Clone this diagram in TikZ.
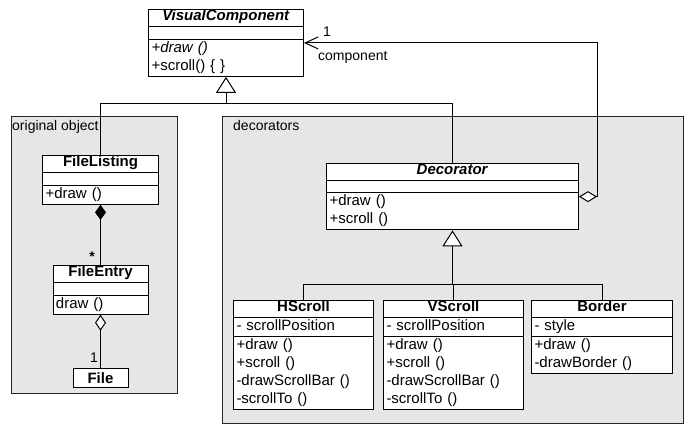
\documentclass[tikz,border=0pt]{standalone}
\usepackage{fontspec}
\setsansfont{Liberation Sans}
\definecolor{panelgray}{RGB}{230,230,230}
\tikzset{every picture/.style={/utils/exec={\sffamily\fontsize{14}{18}\selectfont}}}
\usetikzlibrary{arrows.meta}
\usetikzlibrary{shapes.multipart}
\usetikzlibrary{positioning}

\newcommand{\classtitle}[1]{\makebox[\linewidth]{\rule[-5.5pt]{0pt}{13.5pt}\textbf{#1}}}
\newcommand{\noattr}{\rule{0pt}{11.5pt}}
\newcommand{\members}[1]{\strut#1\strut}

\tikzset{
  classbox/.style={draw, fill=white, line width=1pt, rectangle split,
    rectangle split parts=3, text width=#1, align=left,
    font=\fontsize{15}{18}\selectfont,
    inner xsep=3pt, inner ysep=0pt, anchor=north west},
  panel/.style={draw=black!85, fill=panelgray, line width=1pt,
    inner sep=0pt, anchor=north west},
  genline/.style={line width=1pt},
  gen/.style={line width=1pt, -{Triangle[fill=white, length=16pt, width=20pt]}},
  agg/.style={line width=1pt, {Diamond[fill=white, length=18pt, width=11pt]}-{Straight Barb[length=13pt, width=12pt]}},
  shared/.style={line width=1pt, {Diamond[fill=white, length=16pt, width=11pt]}-},
  owns/.style={line width=1pt, {Diamond[length=15pt, width=11pt]}-}
}

\begin{document}
\begin{tikzpicture}[x=1pt, y=-1pt]
  \useasboundingbox (0,0) rectangle (694,430);

  % groups
  \node [panel, minimum width=166, minimum height=277] (orig) at (11,116) {};
  \node [panel, minimum width=461, minimum height=307] (deco) at (222,116) {};
  \node [anchor=base west, inner sep=0pt] (origlabel) at (12,131) {original object};
  \node [anchor=base west, inner sep=0pt] (decolabel) at (233,131) {decorators};

  % classes
  \node [classbox=149] (vc) at (148,9) {\classtitle{\textit{VisualComponent}}
    \nodepart{two}\noattr
    \nodepart{three}\members{\textit{+draw ()}\\+scroll() \{ \}}};

  \node [classbox=110] (fl) at (42,155) {\classtitle{FileListing}
    \nodepart{two}\noattr
    \nodepart{three}\members{+draw ()}};
  \node [classbox=89, below=60pt of fl.south, anchor=north] (fe) {\classtitle{FileEntry}
    \nodepart{two}\noattr
    \nodepart{three}\members{draw ()}};
  \node [draw, fill=white, line width=1pt, minimum width=55, minimum height=19,
    inner sep=0pt, font=\fontsize{15}{18}\selectfont,
    below=53pt of fe.south, anchor=north] (file) {\textbf{File}};

  \node [classbox=246] (dec) at (326,163) {\classtitle{\textit{Decorator}}
    \nodepart{two}\noattr
    \nodepart{three}\members{+draw ()\\+scroll ()}};

  \node [classbox=134] (hs) at (233,300) {\classtitle{HScroll}
    \nodepart{two}\members{- scrollPosition}
    \nodepart{three}\members{+draw ()\\+scroll ()\\-drawScrollBar ()\\-scrollTo ()}};
  \node [classbox=134, right=9pt of hs.north east, anchor=north west] (vs) {\classtitle{VScroll}
    \nodepart{two}\members{- scrollPosition}
    \nodepart{three}\members{+draw ()\\+scroll ()\\-drawScrollBar ()\\-scrollTo ()}};
  \node [classbox=135, right=7pt of vs.north east, anchor=north west] (border) {\classtitle{Border}
    \nodepart{two}\members{- style}
    \nodepart{three}\members{+draw ()\\-drawBorder ()}};

  % inheritance
  \path (vc.south) ++(0,27) coordinate (vcjoin);
  \draw [genline] (fl.north) |- (vcjoin);
  \draw [genline] (dec.north) |- (vcjoin);
  \draw [gen] (vcjoin) -- (vc.south);

  \path (dec.south) ++(0,54) coordinate (decjoin);
  \draw [genline] (hs.north) |- (decjoin);
  \draw [genline] (border.north) |- (decjoin);
  \draw [genline] (vs.north) |- (decjoin);
  \draw [gen] (decjoin) -- (dec.south);

  % decorator wraps a component
  \draw [agg] (dec.east) -- ++(18,0) |- (vc.east);
  \node [anchor=base, inner sep=0pt] (compmult) at (327,37) {1};
  \node [anchor=base west, inner sep=0pt] (comprole) at (318,61) {component};

  % file listing parts
  \draw [owns] (fl.south) -- (fe.north);
  \node [anchor=base, inner sep=0pt] (entrymult) at (92,262) {\textbf{*}};
  \draw [shared] (fe.south) -- (file.north);
  \node [anchor=base east, inner sep=0pt] (filemult) at (98,363) {1};
\end{tikzpicture}
\end{document}
